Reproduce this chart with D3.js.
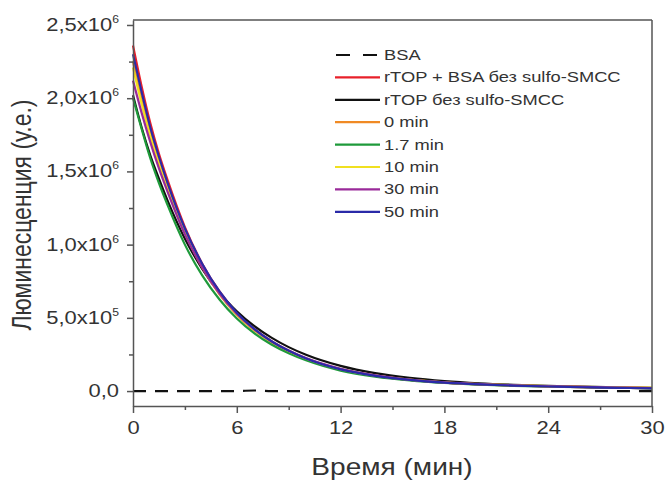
<!DOCTYPE html>
<html><head><meta charset="utf-8">
<script src="https://cdn.jsdelivr.net/npm/d3@7"></script>
<style>body{margin:0;background:#fff}svg{display:block}text{font-family:"Liberation Sans",Arial,sans-serif;fill:#333}</style>
</head><body><svg id="c" width="667" height="481"></svg>
<script>
// time points (min)
const times = [0,0.5,1,1.5,2,3,4,5,6,7,8,9,10,12,14,16,18,20,22,24,26,28,30];
// values in units of 1e6
const bsa    = [0,0,0,0,0,0,0,0,0,0.004,0,0,0,0,0,0,0,0,0,0,0,0,0];
const red    = [2.36,2.08,1.83,1.62,1.44,1.12,0.87,0.68,0.535,0.425,0.34,0.275,0.222,0.148,0.104,0.076,0.058,0.046,0.038,0.032,0.027,0.023,0.02];
const black  = [2.02,1.80,1.61,1.45,1.30,1.04,0.835,0.67,0.545,0.445,0.365,0.30,0.248,0.172,0.122,0.09,0.068,0.053,0.043,0.036,0.03,0.026,0.022];
const orange = [2.25,1.99,1.76,1.56,1.39,1.08,0.845,0.66,0.52,0.415,0.333,0.27,0.218,0.146,0.103,0.076,0.058,0.046,0.038,0.032,0.027,0.023,0.02];
const green  = [2.00,1.79,1.59,1.42,1.27,1.0,0.79,0.625,0.495,0.395,0.318,0.258,0.21,0.14,0.098,0.072,0.055,0.044,0.036,0.031,0.026,0.022,0.019];
const yellow = [2.21,1.96,1.74,1.55,1.38,1.08,0.85,0.665,0.525,0.42,0.338,0.274,0.222,0.15,0.106,0.078,0.06,0.048,0.04,0.034,0.029,0.026,0.024];
const purple = [2.12,1.90,1.70,1.52,1.36,1.07,0.845,0.665,0.528,0.423,0.341,0.277,0.225,0.152,0.107,0.078,0.059,0.047,0.039,0.033,0.028,0.024,0.021];
const blue   = [2.30,2.04,1.80,1.60,1.42,1.11,0.87,0.68,0.535,0.425,0.34,0.275,0.222,0.148,0.104,0.076,0.057,0.045,0.037,0.031,0.026,0.022,0.019];
const seriesNames = ["BSA","rTOP + BSA без sulfo-SMCC","rTOP без sulfo-SMCC","0 min","1.7 min","10 min","30 min","50 min"];
const seriesColors = ["#111","#e8202a","#111","#f08a24","#1e9a3a","#f0e020","#9a2a9a","#2a2aa8"];
const seriesData = [bsa,red,black,orange,green,yellow,purple,blue];
const xTicks = [0,6,12,18,24,30];
const yTicks = [0,0.5e6,1.0e6,1.5e6,2.0e6,2.5e6];
const yTickLabels = [["0,0",""],["5,0x10","5"],["1,0x10","6"],["1,5x10","6"],["2,0x10","6"],["2,5x10","6"]];

const SX = 1.22; // horizontal stretch of text, as in the reference
const svg = d3.select("#c");
const x = d3.scaleLinear().domain([0,30]).range([133,652]);
const y = d3.scaleLinear().domain([-1.02e5,2.534e6]).range([406,20]);
const axisColor = "#555";

// curves
const line = d3.line().x(d=>x(d[0])).y(d=>y(d[1]*1e6)).curve(d3.curveMonotoneX);
const g = svg.append("g");
seriesData.forEach((vals,i)=>{
  if(i===0) return;
  g.append("path").attr("d",line(times.map((t,j)=>[t,vals[j]])))
   .attr("fill","none").attr("stroke",seriesColors[i]).attr("stroke-width",2.2);
});
g.append("path").attr("d",line(times.map((t,j)=>[t,bsa[j]])))
 .attr("fill","none").attr("stroke",seriesColors[0]).attr("stroke-width",2.2)
 .attr("stroke-dasharray","13,9");

// frame
svg.append("line").attr("x1",x(0)).attr("x2",x(30)).attr("y1",20).attr("y2",20).attr("stroke",axisColor).attr("stroke-width",1.5);
svg.append("line").attr("x1",x(30)).attr("x2",x(30)).attr("y1",20).attr("y2",406).attr("stroke",axisColor).attr("stroke-width",1.5);

// x axis
const xAxis = d3.axisBottom(x).tickValues(xTicks).tickSize(7).tickPadding(8).tickSizeOuter(0);
const xg = svg.append("g").attr("transform","translate(0,406)").call(xAxis);
xg.select(".domain").attr("stroke",axisColor).attr("stroke-width",1.5);
xg.selectAll(".tick line").attr("stroke",axisColor).attr("stroke-width",1.5);
xg.selectAll(".tick text").attr("font-size",18).style("fill","#333")
  .attr("font-family","Liberation Sans, Arial, sans-serif").attr("transform",`scale(${SX},1)`);
const xMinor = d3.axisBottom(x).tickValues([3,9,15,21,27]).tickSize(4).tickFormat("").tickSizeOuter(0);
const xm = svg.append("g").attr("transform","translate(0,406)").call(xMinor);
xm.select(".domain").remove();
xm.selectAll(".tick line").attr("stroke",axisColor).attr("stroke-width",1.5);

// y axis
const yAxis = d3.axisLeft(y).tickValues(yTicks).tickSize(6).tickFormat("").tickSizeOuter(0);
const yg = svg.append("g").attr("transform","translate(133,0)").call(yAxis);
yg.select(".domain").attr("stroke",axisColor).attr("stroke-width",1.5);
yg.selectAll(".tick line").attr("stroke",axisColor).attr("stroke-width",1.5);
const yMinor = d3.axisLeft(y).tickValues([0.25e6,0.75e6,1.25e6,1.75e6,2.25e6]).tickSize(4).tickFormat("").tickSizeOuter(0);
const ym = svg.append("g").attr("transform","translate(133,0)").call(yMinor);
ym.select(".domain").remove();
ym.selectAll(".tick line").attr("stroke",axisColor).attr("stroke-width",1.5);
yTicks.forEach((v,i)=>{
  const t = svg.append("g").attr("transform",`translate(119,${y(v)+6}) scale(${SX},1)`)
    .append("text").attr("text-anchor","end").attr("font-size",18);
  t.append("tspan").text(yTickLabels[i][0]);
  if(yTickLabels[i][1]) t.append("tspan").attr("font-size",10).attr("dy",-8).text(yTickLabels[i][1]);
});

// titles
svg.append("text").attr("transform",`translate(392,475) scale(${SX},1)`).attr("text-anchor","middle").attr("font-size",23).text("Время (мин)");
svg.append("text").attr("transform",`translate(31,215) rotate(-90) scale(1,${SX})`).attr("text-anchor","middle").attr("font-size",23).text("Люминесценция (у.е.)");

// legend
const ly0 = 55, ldy = 22.4;
seriesNames.forEach((n,i)=>{
  const yy = ly0 + i*ldy;
  const l = svg.append("line").attr("x1",335).attr("x2",380).attr("y1",yy).attr("y2",yy)
    .attr("stroke",seriesColors[i]).attr("stroke-width",2.2);
  if(i===0) l.attr("stroke-dasharray","14,13").attr("x1",336);
  svg.append("text").attr("transform",`translate(384,${yy+5}) scale(${SX},1)`).attr("font-size",15).text(n);
});
</script></body></html>
